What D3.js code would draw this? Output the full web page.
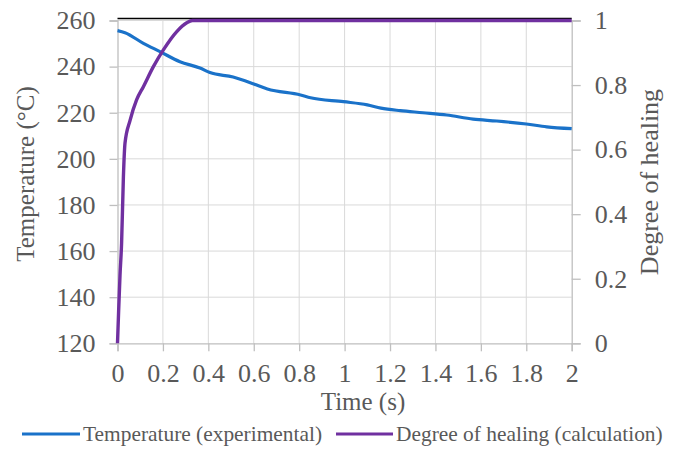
<!DOCTYPE html>
<html><head><meta charset="utf-8">
<script src="https://cdn.jsdelivr.net/npm/d3@7"></script>
<style>
html,body{margin:0;padding:0;background:#fff;}
text{font-family:"Liberation Serif","Times New Roman",serif;fill:#595959;}
</style></head>
<body>
<svg id="chart" width="680" height="450"></svg>
<script>
// Data
const tempTime = [0, 0.033, 0.114, 0.187, 0.275, 0.363, 0.407, 0.509, 0.6, 0.66, 0.806, 0.85, 0.995, 1.1, 1.16, 1.245, 1.345, 1.45, 1.566, 1.67, 1.8, 1.89, 2.0];
const tempValues = [255.6, 254.7, 250.1, 246.5, 242.1, 239.4, 237.4, 235.5, 232.5, 230.3, 227.7, 226.5, 224.8, 223.4, 222.0, 220.9, 220.0, 219.0, 217.2, 216.4, 215.1, 213.9, 213.1];
const healTime = [0, 0.005, 0.011, 0.018, 0.026, 0.033, 0.055, 0.084, 0.114, 0.158, 0.202, 0.26, 0.305, 0.33, 2.0];
const healValues = [0, 0.10, 0.21, 0.31, 0.516, 0.62, 0.69, 0.754, 0.795, 0.857, 0.909, 0.965, 0.993, 1.0, 1.0];
const xTicks = [0, 0.2, 0.4, 0.6, 0.8, 1, 1.2, 1.4, 1.6, 1.8, 2];
const yLeftTicks = [120, 140, 160, 180, 200, 220, 240, 260];
const yRightTicks = [0, 0.2, 0.4, 0.6, 0.8, 1];
const seriesNames = ["Temperature (experimental)", "Degree of healing (calculation)"];
const axisTitles = {x: "Time (s)", yLeft: "Temperature (°C)", yRight: "Degree of healing"};

const colors = {temp: "#1a72c9", heal: "#7030a0", grid: "#d9d9d9", axis: "#bfbfbf"};
const svg = d3.select("#chart");
const L = 117.5, R = 571.7, T = 20.5, B = 343.3;

const x = d3.scaleLinear().domain([0, 2]).range([L, R]);
const yL = d3.scaleLinear().domain([120, 260]).range([B, T]);
const yR = d3.scaleLinear().domain([0, 1]).range([B, T]);

// gridlines
svg.append("g").selectAll("line.h").data(yLeftTicks.slice(1)).join("line")
  .attr("x1", L).attr("x2", R).attr("y1", d => yL(d)).attr("y2", d => yL(d))
  .attr("stroke", colors.grid).attr("stroke-width", 1);
svg.append("g").selectAll("line.v").data(xTicks.slice(1, -1)).join("line")
  .attr("x1", d => x(d)).attr("x2", d => x(d)).attr("y1", T).attr("y2", B)
  .attr("stroke", colors.grid).attr("stroke-width", 1);

// top black border
svg.append("line").attr("x1", L).attr("x2", R).attr("y1", 18.5).attr("y2", 18.5)
  .attr("stroke", "#000").attr("stroke-width", 1.3);

function styleAxis(g) {
  g.select(".domain").attr("stroke", colors.axis).attr("stroke-width", 1.3);
  g.selectAll(".tick line").attr("stroke", colors.axis).attr("stroke-width", 1.3);
  g.selectAll(".tick text").attr("fill", "#595959").style("font-size", "26px")
    .style("font-family", '"Liberation Serif","Times New Roman",serif');
}

const gx = svg.append("g").attr("transform", `translate(0,${B})`)
  .call(d3.axisBottom(x).tickValues(xTicks).tickFormat(d => String(d)).tickSizeOuter(0).tickSize(8).tickPadding(12));
styleAxis(gx);

const gl = svg.append("g").attr("transform", `translate(${L},0)`)
  .call(d3.axisLeft(yL).tickValues(yLeftTicks).tickSizeOuter(0).tickSize(8).tickPadding(14));
styleAxis(gl);

const gr = svg.append("g").attr("transform", `translate(${R},0)`)
  .call(d3.axisRight(yR).tickValues(yRightTicks).tickFormat(d => String(d)).tickSizeOuter(0).tickSize(9).tickPadding(14));
styleAxis(gr);

// lines
const tempData = tempTime.map((t, i) => [t, tempValues[i]]);
const healData = healTime.map((t, i) => [t, healValues[i]]);
svg.append("path").datum(tempData)
  .attr("d", d3.line().x(d => x(d[0])).y(d => yL(d[1])).curve(d3.curveMonotoneX))
  .attr("fill", "none").attr("stroke", colors.temp).attr("stroke-width", 3.2).attr("stroke-linejoin", "round");
svg.append("path").datum(healData)
  .attr("d", d3.line().x(d => x(d[0])).y(d => yR(d[1])).curve(d3.curveMonotoneX))
  .attr("fill", "none").attr("stroke", colors.heal).attr("stroke-width", 3.4).attr("stroke-linejoin", "round");

// axis titles
svg.append("text").attr("x", 363).attr("y", 410).attr("text-anchor", "middle")
  .style("font-size", "25px").text(axisTitles.x);
svg.append("text").attr("transform", `translate(34,174) rotate(-90)`).attr("text-anchor", "middle")
  .style("font-size", "25px").text(axisTitles.yLeft);
svg.append("text").attr("transform", `translate(658,182) rotate(-90)`).attr("text-anchor", "middle")
  .style("font-size", "26px").text(axisTitles.yRight);

// legend
const legendItems = [
  {name: seriesNames[0], color: colors.temp, x0: 22, x1: 80},
  {name: seriesNames[1], color: colors.heal, x0: 336, x1: 393}
];
const lg = svg.append("g");
legendItems.forEach(it => {
  lg.append("line").attr("x1", it.x0).attr("x2", it.x1).attr("y1", 434).attr("y2", 434)
    .attr("stroke", it.color).attr("stroke-width", 3.2);
  lg.append("text").attr("x", it.x1 + 3).attr("y", 441).style("font-size", "21.4px").text(it.name);
});
</script>
</body></html>
